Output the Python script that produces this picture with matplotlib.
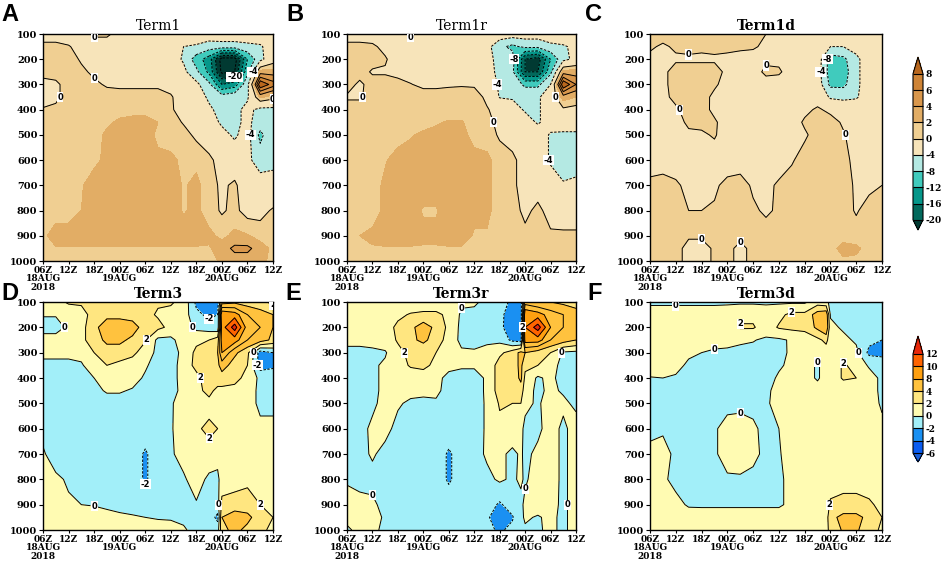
import numpy as np
import matplotlib
matplotlib.use('Agg')
import matplotlib.pyplot as plt
from matplotlib.colors import ListedColormap, BoundaryNorm

# ---- axes / grid ----
# time in hours after 06Z 18AUG2018
hours1 = [0, 3, 6, 9, 12, 15, 18, 21, 24, 27, 30, 33, 36, 39, 42, 45, 48, 51, 54]
hours3 = [0, 3, 6, 9, 12, 15, 18, 21, 24, 27, 30, 33, 36, 39, 41, 42, 45, 48, 51, 54]
plev = [100, 150, 200, 250, 300, 350, 400, 450, 500, 600, 700, 800, 900, 950, 1000]

xtick_hours = [0, 6, 12, 18, 24, 30, 36, 42, 48, 54]
xtick_labels = ['06Z', '12Z', '18Z', '00Z', '06Z', '12Z', '18Z', '00Z', '06Z', '12Z']
date_hours = [0, 18, 42]
date_labels = ['18AUG\n2018', '19AUG', '20AUG']
ytick_vals = [100, 200, 300, 400, 500, 600, 700, 800, 900, 1000]

# ---- shading levels / colours ----
levels1 = [-20, -16, -12, -8, -4, 0, 2, 4, 6, 8]
colors1 = ['#02695c', '#05978a', '#40cbbd', '#b4e9e3', '#f7e4ba',
           '#f0cf92', '#e2ad65', '#d9974c', '#cf8436']
under1, over1 = '#013a32', '#b9671d'
lines1 = [-28, -24, -20, -16, -12, -8, -4, 0, 4, 6, 8, 10, 12]

levels3 = [-6, -4, -2, 0, 2, 4, 8, 10, 12]
colors3 = ['#0a5cf0', '#1a90f2', '#a2eff9', '#fffbb2', '#ffe680',
           '#ffc23e', '#ffa010', '#ff6400']
under3, over3 = '#1a5fd8', '#e8280a'
lines3 = [-8, -6, -4, -2, 0, 2, 4, 6, 8, 10, 12, 14]

# ---- fields (rows = plev, cols = hours) ----
term1 = [
    [-1.5, -1.5, -1.5, -1.2, 0.5, 0.5, -1, -1.5, -1.5, -1.5, -1.5, -1.5, -1.5, -1.5, -1, -1, -1.5, -1.5, -1],
    [0.8, 0.8, 0.2, -1, -1.5, -1.5, -1.5, -1.5, -1.5, -1.5, -1.5, -4, -4.5, -6, -6, -6, -5, -4.5, -2],
    [1, 1, 1, -0.3, -1.5, -1.5, -1.5, -1.5, -1.5, -1.5, -2, -4.5, -10, -14, -26, -26, -12, -5, -1.5],
    [1, 1, 1, 0.5, -0.5, -1, -1.5, -1.5, -1.5, -1.5, -2, -3, -7, -13, -25, -24, -9, 3, 3],
    [-1, -0.5, 1, 1, 0.5, -0.3, -0.5, -0.5, -0.5, -0.5, -1, -2, -3, -7, -16, -14, -5, 10, 7],
    [-1, -0.5, 1, 1, 1, 1, 1, 1, 1, 1, 0.3, -1.5, -2.5, -4.5, -6, -5, -4.5, 2.5, 1],
    [0.2, 0.5, 1, 1, 1, 1, 1, 1, 1, 1, 0.3, -1, -2, -3.5, -5, -5, -3, -5, -5],
    [1, 1, 1, 1, 1, 1.5, 2.5, 3, 3, 2, 1, -0.2, -1.5, -2.5, -4.5, -5, -3, -6, -5],
    [1, 1, 1, 1, 1, 2.5, 3, 3, 3, 1.5, 1, 0.8, -0.5, -1.5, -3, -4.5, -2.5, -9, -5],
    [1, 1, 1, 1, 1.5, 2.5, 3, 3, 3, 2.5, 2.5, 1.5, 1.5, 0.5, -1, -2, -3, -6, -5],
    [1, 1, 1, 1.8, 3, 3, 3, 3, 3, 2.5, 3, 1.8, 2.5, 1, -0.5, 0.5, -2, -2, -2.5],
    [1, 1, 1, 2, 3, 3, 3, 3, 3, 2.5, 3, 1.8, 2.5, 1, -0.3, 0.6, -1, -0.8, 0.3],
    [1.5, 3, 3, 3, 3, 3, 3, 3, 3, 3, 3, 3, 3, 2.5, 1.5, 2.5, 2.2, 1.2, 1],
    [1.2, 1.8, 1.8, 1.8, 1.8, 1.8, 1.8, 1.8, 1.8, 1.8, 1.8, 1.8, 1.8, 1.8, 3, 4.5, 4.5, 3, 1.5],
    [1, 1, 1, 1, 1, 1, 1, 1, 1, 1, 1, 1, 1, 1, 2.5, 3, 3, 2.5, 1.5],
]

term1r = [
    [-1.5, -1.5, -1.5, -1.5, -1.2, 0.5, -1, -1.5, -1.5, -1.5, -1.5, -1.5, -1.5, -2, -2, -2, -1.5, -1, -1],
    [0.8, 0.8, 0.5, -0.8, -1.5, -1.5, -1.5, -1.5, -1.5, -1.5, -1.5, -2.5, -7, -9, -7, -7, -5, -4.5, -3],
    [1, 1, 1, 0.3, -1.5, -1.5, -1.5, -1.5, -1.5, -1.5, -1.5, -3, -5, -6, -20, -22, -12, -5, -3],
    [1, 1, -0.3, -0.3, -0.5, -1, -1, -1.5, -1.5, -1.5, -1.5, -2.5, -5, -7, -20, -20, -9, 3, 3],
    [1, -0.5, 1, 1, 0.5, 0.1, -0.5, -0.5, -0.3, -0.2, -0.3, -2, -4.5, -5, -9, -9, -4, 10, 6],
    [-0.3, -0.3, 1, 1, 1, 1, 1, 1, 1, 1, 1, -0.5, -4.2, -4.5, -4.5, -4.5, -2, 3, 2],
    [1, 1, 1, 1, 1, 1, 1, 1, 1, 1, 1, 0.2, -1, -2, -4.5, -4.5, -2, -0.5, -1],
    [1, 1, 1, 1, 1, 1, 1, 1.8, 2.2, 2.2, 1, 0.5, -0.5, -1.5, -2, -4.5, -2, -1, -1],
    [1, 1, 1, 1, 1, 1.8, 2.5, 2.5, 2.5, 2.5, 1.5, 1, -0.3, -1, -1.5, -1.5, -4.5, -5, -5],
    [1, 1, 1, 1.8, 3, 3, 3, 3, 3, 3, 2.5, 2.5, 1, 0.5, -1, -1.5, -4.5, -5, -5],
    [1, 1, 1, 2.5, 3, 3, 3, 3, 3, 3, 2.5, 2.5, 1, 0.5, -1, -1, -2, -3.8, -3.5],
    [1, 1, 1, 2.5, 3, 3, 1.8, 1.8, 3, 3, 2.5, 2.5, 1, 0.8, -0.5, 0.5, -0.8, -1, -1],
    [1, 2, 2.5, 3, 3, 3, 2.5, 2.5, 3, 3, 1.8, 1.8, 1.2, 1, 0.5, 0.3, 0.3, 0.3, 0.3],
    [1, 1.5, 1.8, 1.8, 1.8, 1.8, 1.8, 1.8, 1.8, 1.8, 1.5, 1.2, 1, 1, 1, 1, 1, 1, 0.2],
    [1, 1, 1, 1, 1, 1, 1, 1, 1, 1, 1, 1, 1, 1, 1, 1, 1, 1, 1],
]

term1d = [
    [0.8, 0.8, 0.8, 0.8, 0.8, 0.8, 0.8, 0.8, 0.8, 0, -1, -1, -1, -1, -1, -1, -1, -1, -1],
    [0.3, -0.3, 0.3, 0.5, 0.3, 0.5, 0.5, 0.5, 0.3, -0.5, -1, -1, -1, -1.5, -4, -4, -2.5, -1.5, -1],
    [-0.5, -0.5, -0.3, -0.3, -0.3, -0.3, -0.5, -1, -1, -0.5, -0.5, -1, -1, -1.5, -10, -9, -5, -1.5, -1],
    [-0.8, -0.5, 0.8, 0.8, 0.8, 0.8, -0.5, -1, -1, 0.5, 0.3, -1, -1, -2, -10, -10, -5, -1.5, -1],
    [-1, -0.5, 0.8, 0.8, 0.8, 0.2, -0.5, -1, -1, -1, -1, -1, -1, -1.5, -9, -9, -5, -1.5, -1],
    [-1, -0.5, 0.5, 0.8, 0.5, -0.3, -1, -1, -1, -1, -1, -1, -1, -1, -4.5, -5, -4.5, -1.5, -1],
    [-1, -1, -0.3, 0.8, 0.8, -0.5, -1, -1, -1, -1, -1, -1, -0.5, 0.3, -0.5, -1, -1, -1, -1],
    [-0.5, -1, -1, 0.5, 0.5, 0.3, -1, -1, -1, -1, -1, -1, 0.3, 0.8, 0.8, -0.3, -1, -1, -1],
    [-0.3, -1, -1, -0.5, -0.3, 0.2, -1, -1, -1, -1, -1, -1, -0.3, 0.8, 0.8, 0.2, -1, -1, -1],
    [-1, -1, -1, -1, -1, -1, -1, -1, -1, -1, -1, -0.2, 0.8, 0.8, 0.8, 0.8, -0.8, -1, -1],
    [0.5, 0.8, 0.3, -0.5, -0.5, -0.3, 0.5, 0.8, -0.3, -0.5, 0.3, 0.8, 0.8, 0.8, 0.8, 0.8, -0.3, -0.5, 0],
    [0.8, 0.8, 0.5, 0, 0, 0.2, 0.8, 0.8, 0.3, -0.3, 0.3, 0.8, 0.8, 0.8, 0.8, 0.8, -0.2, 0.8, 0.8],
    [0.8, 0.8, 0.8, 0.3, 0.3, 0.8, 0.8, 0.8, 0.8, 0.8, 0.8, 0.8, 0.8, 0.8, 0.8, 0.8, 0.8, 0.8, 0.8],
    [0.8, 0.8, 0.8, -0.8, -0.8, 0.3, 0.8, -0.8, 0.8, 0.8, 0.8, 0.8, 0.8, 0.8, 1, 3, 2.5, 1, 0.8],
    [0.5, 0.8, 0.8, -0.8, -0.8, 0.3, 0.8, -0.8, 0.8, 0.8, 0.8, 0.8, 0.8, 0.8, 0.8, 1.5, 1.5, 0.8, 0.8],
]

term3 = [
    [1, 1.5, 2.2, 2.2, 2.2, 2.2, 2.2, 2.2, 2.2, 2.2, 2.2, 1.5, -2.5, -3, -3, 3, 3.5, 3, 2.5, 1.5],
    [0.2, 0.2, 1, 1.5, 2.5, 3, 3, 3, 2.5, 1.8, 1.5, 1, -1.5, -2.5, -2, 10, 9, 6, 5, 4],
    [-1, -1, 0.5, 1.5, 3, 6, 6, 5, 3, 2.5, 1.5, 1, -0.5, -1, -1.5, 9, 13, 7, 6, 4],
    [1, 1, 1, 1.5, 3, 4.5, 4.5, 3.5, 2.2, -0.5, -0.5, 1, 1.5, 2, 3, 9, 9, 6, 5, 3.5],
    [0.5, 0.5, 0.5, 0.8, 2, 3, 3, 2.5, 1, -0.5, -0.8, 0.5, 2.5, 3, 4, 8, 4.5, 2.5, -3, -2],
    [-0.5, -0.5, -0.5, -0.3, 1.5, 2, 1.5, 1, 0.3, -1, -1, 1, 2.5, 3, 3.5, 5, 3, 2, -3, -2.5],
    [-0.5, -0.5, -0.8, -0.8, 0, 1, 1, 0.8, -0.3, -1, -1, 1, 1.5, 3, 3, 3, 2.5, 1.5, -0.5, -0.5],
    [-0.8, -0.8, -0.8, -0.8, -0.5, 0.2, 0.2, -0.2, -0.8, -1, -1, 0.8, 1.5, 2.5, 1.5, 1.5, 1.5, 1, -0.5, -0.5],
    [-0.8, -0.8, -0.8, -0.8, -0.8, -0.8, -0.8, -0.8, -0.8, -0.8, -0.2, 0.8, 1.5, 1.5, 1, 1, 1, 1, -0.5, -0.5],
    [-0.5, -0.8, -0.8, -0.8, -0.8, -0.8, -0.8, -0.8, -0.8, -0.8, -0.2, 1, 1.8, 2.3, 2, 1, 1, 1, 0.5, 0.5],
    [0.2, -0.8, -0.8, -0.8, -0.8, -0.8, -0.8, -0.8, -2.3, -0.8, -0.3, 0.8, 1.5, 1.5, 0.8, 1, 1.5, 1, 1, 1],
    [1, 0.3, -0.2, -0.8, -0.8, -0.8, -0.8, -0.8, -2.3, -0.8, -0.5, -0.3, 1, -0.5, -0.5, 1, 1, 1.5, 1, 1],
    [1, 1, 0.2, 0, -0.1, -0.3, -0.5, -0.8, -0.8, -0.8, -0.8, -0.5, -0.2, -0.8, -0.8, 2.5, 3, 3, 2, 1.2],
    [1, 1, 1, 1, 0.8, 0.5, 0.3, 0.2, 0, -0.2, -0.3, -0.5, -0.5, -1, -2.5, 4, 5, 4.5, 3, 2],
    [1, 1, 1, 1, 1, 1, 1, 1, 1, 1, 1, 0.3, -0.8, -1, -1, 3.5, 4.5, 3.5, 2.5, 1.5],
]

term3r = [
    [0.5, 0.5, 0.5, 0.5, 0.5, 0.5, 0.5, 0.5, 0.5, 0.3, 0.3, -0.5, -1, -2.5, -3, 5, 4, 4, 3.5, 3],
    [0.8, 0.5, 0.5, 1, 1.5, 2.2, 2.5, 2.5, 1.5, -0.3, -0.5, -1, -1.5, -3, -3.5, 10, 9, 7, 6, 5],
    [0.5, 0.5, 0.5, 1, 2.5, 3.5, 5, 3.5, 1.5, -0.5, -0.8, -1, -1.5, -3.2, -3.5, 10, 13, 8, 6, 5],
    [0.5, 0.5, 0.5, 1, 2.2, 3.5, 4.5, 3, 1.2, -0.5, -0.8, -0.3, -0.5, -2.5, -3, 9, 9, 6, 5, 4],
    [-0.5, -0.5, -0.3, -0.2, 1.5, 2.5, 2.5, 2, 1, 0.3, 0.3, 0.5, 1.5, 3, 4.5, 4, 3, 2, -0.3, -0.5],
    [-0.5, -0.5, -0.3, 0.3, 1.2, 2.2, 2.5, 1.5, 0.5, 0.3, 0.3, 0.3, 3, 3, 4.5, 2.5, 2, 1, -0.8, -0.5],
    [-0.5, -0.5, -0.5, 0.5, 1, 1, 1, 0.5, -0.5, -0.8, -0.8, 0.3, 3, 2.5, 4.5, 1.5, -0.3, 0.5, -0.8, -0.8],
    [-0.5, -0.5, -0.5, 0.5, 0.3, 0.5, 0.3, 0.3, -0.5, -0.8, -0.8, 0.3, 3, 2.5, 3, 1, -0.5, 0.5, -0.3, -0.8],
    [-0.5, -0.5, -0.3, 0.5, 0.2, -0.3, -0.3, -0.2, -0.8, -1, -1, 0.3, 2.2, 2, 2, 0.5, -0.3, 1, 0.5, -0.5],
    [-0.5, -0.5, 0.3, 0.5, -0.5, -0.8, -0.8, -0.8, -0.8, -1, -1, 0.3, 1.5, 1.5, 0.5, -0.5, -0.5, 1, -0.5, 1],
    [-0.5, -0.5, 0.2, -0.5, -0.8, -0.8, -0.8, -0.8, -2.3, -1, -0.8, 0.3, 0.5, -0.5, 0.3, -0.5, 0.5, 1, -0.5, 1],
    [-0.3, -0.5, -0.5, -0.8, -0.8, -0.8, -0.8, -0.8, -2.3, -1, -0.8, -0.5, 0.3, -0.3, 0.3, -0.3, 1, 1, -0.5, 1],
    [1, 0.5, 0.3, -0.5, -0.8, -0.8, -0.8, -0.8, -0.8, -0.8, -0.8, -1, -2.3, -1, -0.5, 0.5, 1, 0.8, -0.5, 1],
    [0.5, 1, 0.8, -0.3, -0.8, -0.8, -0.8, -0.8, -0.8, -0.8, -0.8, -1.8, -2.8, -2.2, -0.5, 0.3, -0.2, 0.5, -0.5, 1],
    [-0.3, 0.5, 0.5, -0.5, -0.8, -0.8, -0.8, -0.8, -0.8, -0.8, -0.8, -1.5, -2.3, -1.5, -0.5, -0.3, -0.3, 0.5, -0.5, 1],
]

term3d = [
    [-0.3, -0.3, -0.3, -0.3, -0.3, -0.3, -0.3, -0.3, -0.3, -0.3, -0.3, -0.3, -0.3, 1, 0.5, -0.5, -1, -1, -1, -1],
    [0.8, 0.8, 0.8, 0.8, 0.8, 0.8, 1, 1.5, 1.5, 1, 1.5, 2.5, 2.5, 5, 5.5, -0.2, -0.8, -1, -1, -1],
    [1, 0.8, 0.8, 0.8, 0.8, 0.8, 1, 2.2, 2.2, 1, 2.2, 2.5, 2.5, 4.5, 6, 0.5, -0.3, -0.8, -1, -1],
    [1, 1, 0.8, 0.8, 0.8, 0.5, 0.5, 0.3, 0.1, -0.3, -0.3, 0.2, 1, 1.5, 2.5, 1, 0.5, -0.3, -1.5, -2],
    [1, 1, 0.8, 0.3, 0, -0.2, -0.3, -0.5, -0.5, -0.8, -0.5, 0.3, 1, 1, 1, 1, 1, 0.5, -2.5, -2.5],
    [1, 0.8, 0.5, -0.3, -0.5, -0.5, -0.5, -0.5, -0.5, -0.8, -0.3, 0.5, 1, -0.3, 1, 1, 2.2, 1.5, -0.3, -1],
    [-0.1, 0, -0.2, -0.5, -0.5, -0.5, -0.5, -0.5, -0.5, -0.8, 0.3, 0.5, 1, -0.3, 1, 1, 2.2, 2, 1, -0.5],
    [-0.5, -0.5, -0.5, -0.5, -0.5, -0.5, -0.5, -0.5, -0.8, -0.3, 0.5, 0.5, 1, 1, 1, 1, 1, 1, 1, -0.5],
    [-0.5, -0.5, -0.5, -0.5, -0.6, -0.6, -0.5, -0.5, -0.5, -0.2, 0.5, 1, 1, 1, 1, 1, 1, 1, 1, -0.3],
    [-0.3, -0.2, -0.3, -0.5, -0.8, -0.2, 0.6, 0.8, 0.3, -0.5, 0, 0.8, 1, 1, 1, 1, 1, 1, 1, 0.5],
    [0.3, 0.5, -0.3, -0.3, -0.5, -0.2, 0.6, 0.8, 0.5, -0.5, -0.2, 1, 1, 1, 1, 1, 1, 1, 1, 1],
    [0.8, 0.3, -0.5, -0.3, -0.3, -0.5, -0.2, -0.2, -0.5, -0.5, -0.3, 0.5, 1, 1, 1, 1, 1, 1, 1, 1],
    [1, 1, 0.5, -0.2, -0.3, -0.3, -0.3, -0.3, -0.3, -0.3, -0.3, 0.5, 1, 1, 1, 2.3, 2.8, 2.8, 2.3, 1.5],
    [1, 1, 1, 0.8, 1, 1, 1, 1, 1, 1, 1, 1, 1, 1, 1, 3.5, 4.5, 4.5, 3.5, 2],
    [1, 1, 1, 1, 1, 1, 1, 1, 1, 1, 1, 1, 1, 1, 1, 3, 4.2, 4.2, 3.2, 1.5],
]

tick_font = dict(family='DejaVu Serif', weight='bold')


def make_cmap(colors, under, over, levels):
    cmap = ListedColormap(colors)
    cmap.set_under(under)
    cmap.set_over(over)
    norm = BoundaryNorm(levels, cmap.N)
    return cmap, norm


def plot_panel(fig, rect, hours, field, levels, cmap, norm, line_levels,
               label_levels, title, bold_title, letter, letter_pos):
    ax = fig.add_axes(rect)
    z = np.array(field, dtype=float)
    cf = ax.contourf(hours, plev, z, levels=levels, cmap=cmap, norm=norm,
                     extend='both')
    styles = [(0, (2.5, 1.5)) if l < 0 else 'solid' for l in line_levels]
    cs = ax.contour(hours, plev, z, levels=line_levels, colors='k',
                    linewidths=0.7, linestyles=styles)
    lab = [l for l in label_levels if l in cs.levels]
    if lab:
        texts = ax.clabel(cs, levels=lab, fmt='%d', fontsize=6,
                          inline=True, inline_spacing=1)
        for t in texts:
            t.set_rotation(0)
            t.set_fontweight('bold')
            t.set_bbox(dict(facecolor='white', edgecolor='none', pad=0.4))

    ax.set_xlim(0, 54)
    ax.set_ylim(1000, 100)
    ax.set_xticks(xtick_hours)
    ax.set_xticklabels(xtick_labels, fontsize=6.5, **tick_font)
    ax.set_yticks(ytick_vals)
    ax.set_yticklabels([str(v) for v in ytick_vals], fontsize=7, **tick_font)
    ax.tick_params(direction='out', width=0.8)
    ax.tick_params(axis='x', length=2, pad=1.5)
    ax.tick_params(axis='y', length=3, pad=1)
    for s in ax.spines.values():
        s.set_linewidth(1.0)

    # date lines below the hour labels
    for h, d in zip(date_hours, date_labels):
        ax.annotate(d, xy=(h, 0), xycoords=ax.get_xaxis_transform(),
                    xytext=(0, -9.6), textcoords='offset points',
                    ha='center', va='top', fontsize=6.5, linespacing=1.0,
                    **tick_font)

    ax.set_title(title, family='DejaVu Serif', fontsize=10,
                 fontweight='bold' if bold_title else 'normal', pad=3)
    fig.text(letter_pos[0], letter_pos[1], letter, family='Liberation Sans',
             fontsize=17, fontweight='bold', va='top', ha='left')
    return cf


def add_cbar(fig, rect, cf, levels, extendfrac):
    cax = fig.add_axes(rect)
    cb = fig.colorbar(cf, cax=cax, ticks=levels, drawedges=True,
                      extendfrac=extendfrac)
    cb.ax.tick_params(length=0, pad=2)
    cb.set_ticklabels([str(v) for v in levels])
    for t in cb.ax.get_yticklabels():
        t.set_fontweight('bold')
        t.set_family('DejaVu Serif')
        t.set_fontsize(6.5)
    cb.outline.set_linewidth(0.8)
    cb.dividers.set_linewidth(0.8)
    return cb


if __name__ == '__main__':
    W, H = 948, 561
    fig = plt.figure(figsize=(W / 100, H / 100), dpi=100)

    cmap1, norm1 = make_cmap(colors1, under1, over1, levels1)
    cmap3, norm3 = make_cmap(colors3, under3, over3, levels3)

    # panel boxes in pixels
    top_row = (34, 261)
    bot_row = (302, 530)
    cols = [(43, 273), (347, 576), (650, 882)]

    def rect(c, r):
        return [c[0] / W, 1 - r[1] / H, (c[1] - c[0]) / W, (r[1] - r[0]) / H]

    top_panels = [
        (term1, 'Term1', False, 'A', (1, 3)),
        (term1r, 'Term1r', False, 'B', (286, 3)),
        (term1d, 'Term1d', True, 'C', (585, 3)),
    ]
    bot_panels = [
        (term3, 'Term3', True, 'D', (1, 282)),
        (term3r, 'Term3r', True, 'E', (285, 282)),
        (term3d, 'Term3d', True, 'F', (587, 282)),
    ]
    top_labels = [[0, -4, -20], [0, -4, -8], [0, -4, -8]]
    bot_labels = [[0, 2, -2], [0, 2], [0, 2]]

    cf_top = None
    for c, (fld, ttl, bld, let, lp), lab in zip(cols, top_panels, top_labels):
        cf_top = plot_panel(fig, rect(c, top_row), hours1, fld, levels1,
                            cmap1, norm1, lines1, lab, ttl, bld, let,
                            (lp[0] / W, 1 - lp[1] / H))
    cf_bot = None
    for c, (fld, ttl, bld, let, lp), lab in zip(cols, bot_panels, bot_labels):
        cf_bot = plot_panel(fig, rect(c, bot_row), hours3, fld, levels3,
                            cmap3, norm3, lines3, lab, ttl, bld, let,
                            (lp[0] / W, 1 - lp[1] / H))

    add_cbar(fig, [913 / W, 1 - 230 / H, 10 / W, 173 / H], cf_top, levels1,
             (0.07, 0.115))
    add_cbar(fig, [913 / W, 1 - 462 / H, 10 / W, 126 / H], cf_bot, levels3,
             (0.09, 0.18))

    fig.savefig('out.png', dpi=100)
